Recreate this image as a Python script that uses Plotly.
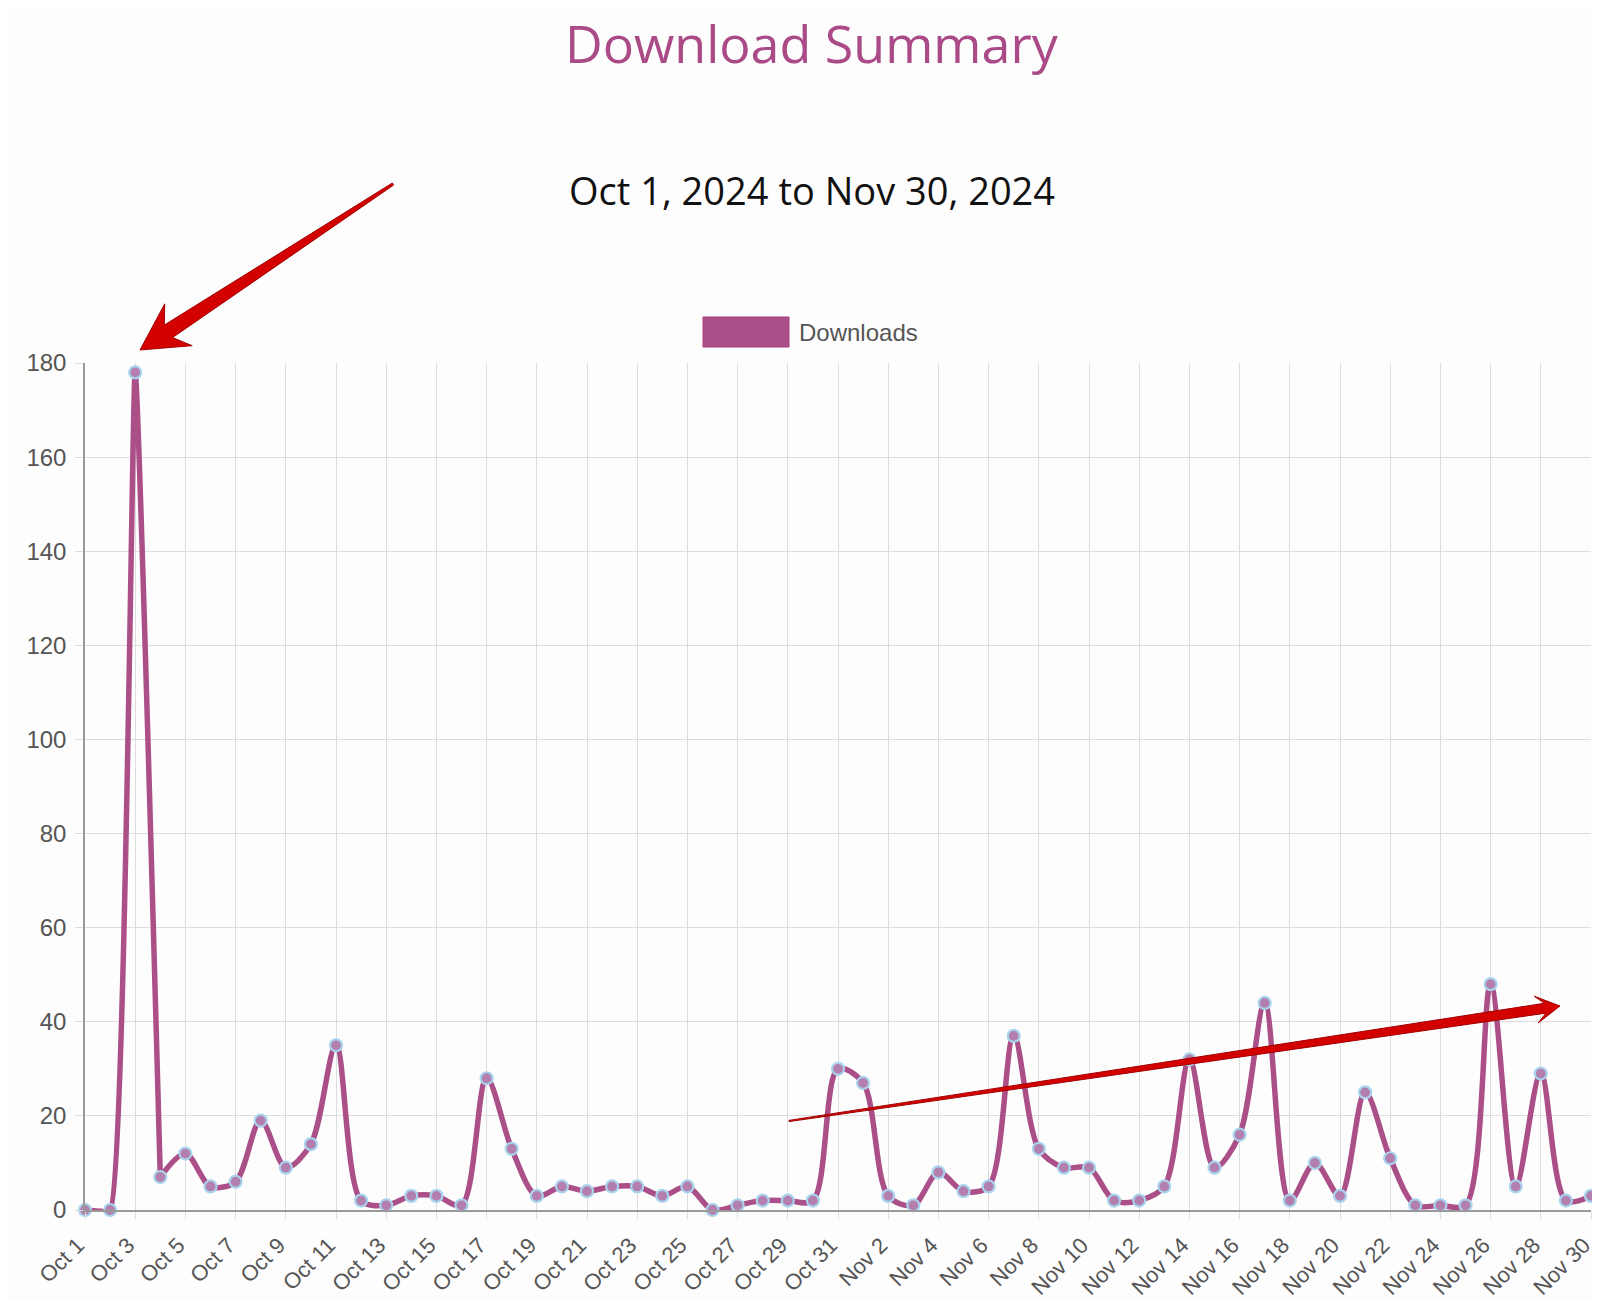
import plotly.graph_objects as go
import pandas as pd

# daily downloads, Oct 1 - Nov 30 2024
dates = pd.date_range("2024-10-01", "2024-11-30", freq="D")
downloads = [
    0, 0, 178, 7, 12, 5, 6, 19, 9, 14,
    35, 2, 1, 3, 3, 1, 28, 13, 3, 5,
    4, 5, 5, 3, 5, 0, 1, 2, 2, 2,
    30, 27, 3, 1, 8, 4, 5, 37, 13, 9,
    9, 2, 2, 5, 32, 9, 16, 44, 2, 10,
    3, 25, 11, 1, 1, 1, 48, 5, 29, 2,
    3,
]

PURPLE = "#ab4f88"
BG = "#fefdfe"
OFF = 8  # browser body margin
W, H = 1600 - OFF, 1307 - 2 * OFF
# plot area in page pixels
L, R, T, B = 85, 1591, 363, 1210


def to_paper(px, py):
    return (px - L) / (R - L), (B - py) / (B - T)


def arrow_path(tail, head, w_tail, w_shaft, head_len, head_half, join):
    # tapered arrow with swept-back barbs, page pixels -> paper units
    tx, ty = tail
    hx, hy = head
    dx, dy = hx - tx, hy - ty
    ln = (dx ** 2 + dy ** 2) ** 0.5
    dx, dy = dx / ln, dy / ln
    nx, ny = -dy, dx
    jx, jy = hx - dx * join, hy - dy * join
    bx, by = hx - dx * head_len, hy - dy * head_len
    pts = [
        (tx + nx * w_tail, ty + ny * w_tail),
        (jx + nx * w_shaft, jy + ny * w_shaft),
        (bx + nx * head_half, by + ny * head_half),
        (hx, hy),
        (bx - nx * head_half, by - ny * head_half),
        (jx - nx * w_shaft, jy - ny * w_shaft),
        (tx - nx * w_tail, ty - ny * w_tail),
    ]
    pp = [to_paper(x, y) for x, y in pts]
    return "M " + " L ".join(f"{x:.5f},{y:.5f}" for x, y in pp) + " Z"


fig = go.Figure()
# the big spike is drawn with less smoothing so its flanks stay straight
fig.add_trace(go.Scatter(
    x=dates[:4], y=downloads[:4], mode="lines",
    line=dict(color=PURPLE, width=5.5, shape="spline", smoothing=0.35),
    cliponaxis=False, showlegend=False, hoverinfo="skip",
))
fig.add_trace(go.Scatter(
    x=dates[3:], y=downloads[3:], mode="lines",
    line=dict(color=PURPLE, width=5.5, shape="spline", smoothing=0.9),
    cliponaxis=False, showlegend=False, hoverinfo="skip",
))
fig.add_trace(go.Scatter(
    x=dates, y=downloads, name="Downloads", mode="markers",
    marker=dict(size=12, color="#b27fae",
                line=dict(color="#a8d3ec", width=2.2)),
    cliponaxis=False, showlegend=False,
))

tx, ty = to_paper(812, 43)
sx, sy = to_paper(812, 190)
lx0, ly0 = to_paper(703, 317)
lx1, ly1 = to_paper(789, 347)
tlx, tly = to_paper(797, 332)

fig.update_layout(
    width=W, height=H,
    margin=dict(l=L - OFF, r=W - (R - OFF), t=T - OFF, b=H - (B - OFF)),
    paper_bgcolor=BG, plot_bgcolor=BG,
    font=dict(family="Liberation Sans, Arial, sans-serif", size=22, color="#555"),
    annotations=[
        dict(text="Download Summary", x=tx, y=ty, xref="paper", yref="paper",
             showarrow=False, xanchor="center", yanchor="middle",
             font=dict(family="Open Sans", size=52, color="#aa4a86")),
        dict(text="Oct 1, 2024 to Nov 30, 2024", x=sx, y=sy, xref="paper", yref="paper",
             showarrow=False, xanchor="center", yanchor="middle",
             font=dict(family="Open Sans", size=38, color="#111")),
        dict(text="Downloads", x=tlx, y=tly, xref="paper", yref="paper",
             showarrow=False, xanchor="left", yanchor="middle",
             font=dict(size=24, color="#555")),
    ],
    shapes=[
        dict(type="rect", xref="paper", yref="paper", x0=lx0, y0=ly0, x1=lx1, y1=ly1,
             fillcolor=PURPLE, line=dict(color="#a8407f", width=1)),
        dict(type="path", xref="paper", yref="paper",
             path=arrow_path((393, 184), (140, 350), 1.2, 7.5, 46, 25, 34),
             fillcolor="#d30000", line=dict(color="#a00000", width=1)),
        dict(type="path", xref="paper", yref="paper",
             path=arrow_path((789, 1121), (1560, 1006), 0.6, 5, 24, 13.5, 15),
             fillcolor="#d30000", line=dict(color="#a00000", width=1)),
    ],
)

fig.update_xaxes(
    type="date", range=[dates[0], dates[-1]], automargin=False,
    tick0=dates[0], dtick=2 * 86400000, tickformat="%b %-d", tickangle=-45,
    ticklabeloverflow="allow", ticklabelshift=-7, ticklabelstandoff=5,
    ticks="outside", ticklen=7, tickcolor="#ddd",
    showgrid=True, gridcolor="#ddd", gridwidth=1,
    showline=True, linecolor="#999", linewidth=1.5,
    zeroline=False, tickfont=dict(size=22, color="#555"),
)
fig.update_yaxes(
    range=[0, 180], dtick=20, automargin=False,
    ticks="outside", ticklen=8, tickcolor="#ddd", ticklabelstandoff=4,
    showgrid=True, gridcolor="#ddd", gridwidth=1,
    showline=True, linecolor="#999", linewidth=1.5,
    zeroline=True, zerolinecolor="#999", zerolinewidth=1.5,
    tickfont=dict(size=24, color="#555"),
)

fig.write_html("out.html")
